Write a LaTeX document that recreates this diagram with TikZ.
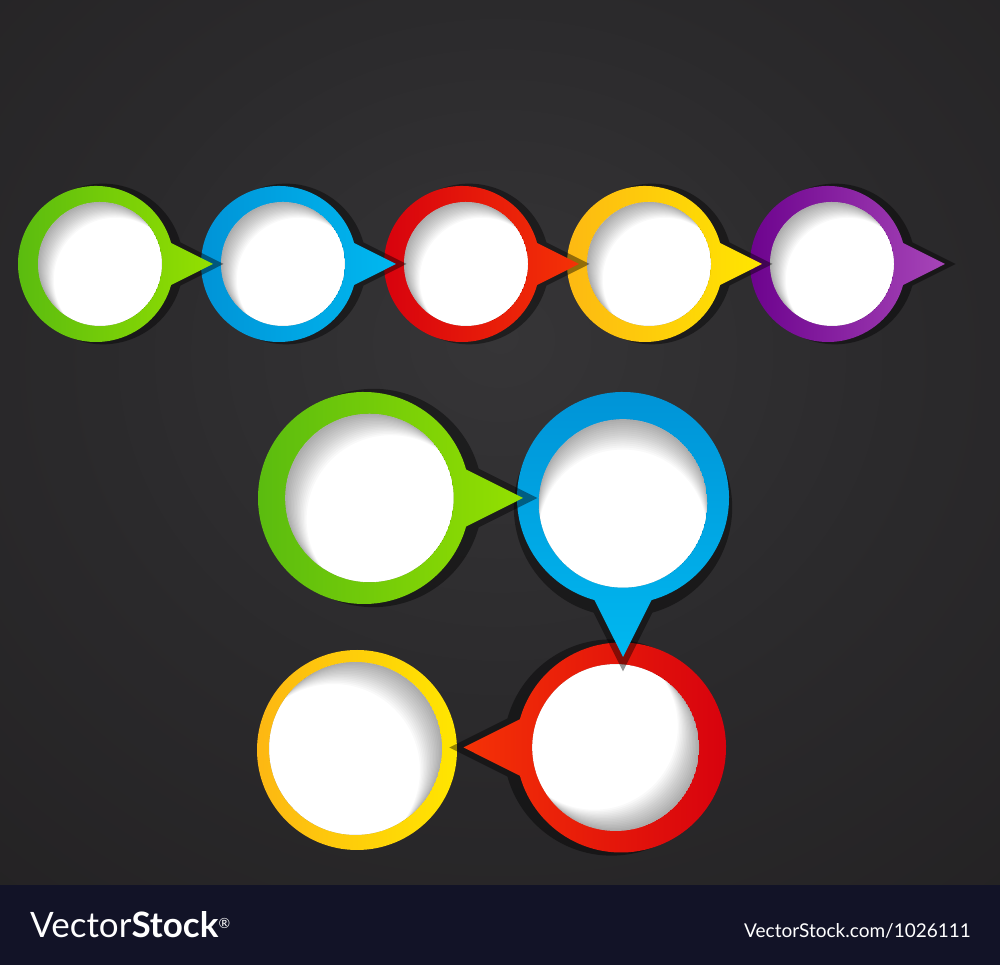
\documentclass[tikz,border=0pt]{standalone}
\usepackage{fontspec}
\setmainfont{Lato}
\definecolor{bgc}{HTML}{363537}
\definecolor{bgm}{HTML}{2B2A2C}
\definecolor{bge}{HTML}{1E1C1D}
\definecolor{banner}{HTML}{121327}
\definecolor{gA}{HTML}{58BA10}
\definecolor{gB}{HTML}{94E000}
\definecolor{bA}{HTML}{0092D6}
\definecolor{bB}{HTML}{00B8F0}
\definecolor{rA}{HTML}{D6000E}
\definecolor{rB}{HTML}{F53206}
\definecolor{yA}{HTML}{FDB713}
\definecolor{yB}{HTML}{FFE600}
\definecolor{pA}{HTML}{6A008C}
\definecolor{pB}{HTML}{A745B8}
\pgfdeclareradialshading{bgsh}{\pgfpoint{0bp}{6bp}}{color(0bp)=(bgc); color(20bp)=(bgm); color(55bp)=(bge); color(100bp)=(bge)}
\tikzset{shadowc/.style={fill=black,opacity=0.42},
  innersh/.style={fill=black,opacity=0.022,even odd rule}}
% white disc with a soft inner shadow; #1 = radius, #2 = direction the white side lies in
\newcommand{\innerdisc}[2]{%
  \begin{scope}
    \clip (0,0) circle[radius=#1];
    \fill[white] (0,0) circle[radius=#1];
    \foreach \s in {1,...,15}{%
      \pgfmathsetmacro\sd{#1*\s*0.024}%
      \path[innersh] (0,0) circle[radius=#1] (#2:\sd) circle[radius=#1];}
  \end{scope}}
\newcommand{\bubble}[7]{%
  \pgfmathsetmacro\bsc{#3/78}%
  \pgfmathsetmacro\bang{90+#4}%
  \pgfmathsetmacro\iang{-45+#7-#4}%
  \begin{scope}[shift={(#1,#2)},rotate=#4,scale=\bsc]
    \begin{scope}[shift={(7,0)},scale=1.03]
      \path[shadowc] (15.6:78) arc[start angle=15.6,end angle=344.4,radius=78] -- (117,0) -- cycle;
    \end{scope}
    \shade[top color=#5,bottom color=#6,shading angle=\bang] (15.6:78) arc[start angle=15.6,end angle=344.4,radius=78] -- (117,0) -- cycle;
    \begin{scope}[shift={(4,0)}]
      \innerdisc{62}{\iang}
    \end{scope}
  \end{scope}}
\begin{document}
\begin{tikzpicture}[x=1pt,y=1pt]
\useasboundingbox (0,0) rectangle (1000,965);
\shade[shading=bgsh] (0,80) rectangle (1000,965);
\fill[banner] (0,0) rectangle (1000,80);
% top row (drawn right to left)
\bubble{828}{701}{78}{0}{pA}{pB}{0}
\bubble{645}{701}{78}{0}{yA}{yB}{0}
\bubble{462}{701}{78}{0}{rA}{rB}{0}
\bubble{279}{701}{78}{0}{bA}{bB}{0}
\bubble{96}{701}{78}{0}{gA}{gB}{0}
% lower group
\shade[left color=yA,right color=yB] (357,215) circle[radius=100];
\begin{scope}[shift={(355.5,216.5)}]
  \innerdisc{86.5}{-135}
\end{scope}
\bubble{621}{217.5}{105}{180}{rA}{rB}{180}
\bubble{623}{467}{106}{-90}{bA}{bB}{-45}
\bubble{364}{467}{106}{0}{gA}{gB}{0}
% banner texts
\node[anchor=base west,inner sep=0,text=white,font=\fontsize{35}{35}\selectfont] (logo) at (30,27) {Vector\textbf{Stock}\textsuperscript{\fontsize{14}{14}\selectfont ®}};
\node[anchor=base east,inner sep=0,text=white,font=\fontsize{19}{19}\selectfont] (url) at (971,27.3) {VectorStock.com/1026111};
\end{tikzpicture}
\end{document}
